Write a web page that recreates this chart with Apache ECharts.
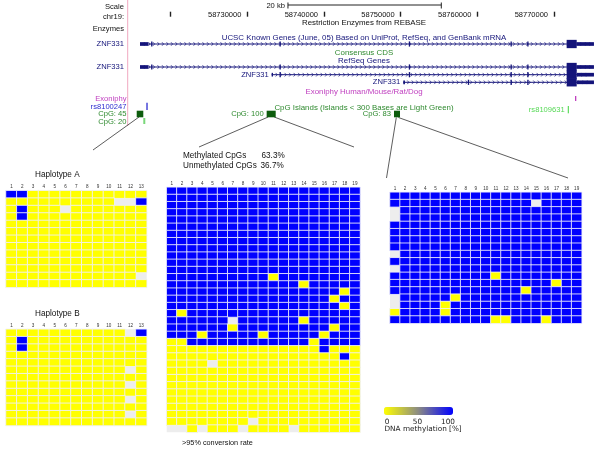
<!DOCTYPE html>
<html><head><meta charset="utf-8">
<script src="https://cdn.jsdelivr.net/npm/echarts@6/dist/echarts.min.js"></script>
<style>html,body{margin:0;padding:0;background:#fff}#c{width:600px;height:450px}</style>
</head><body><div id="c"></div>
<script>
// ================= DATA =================
// genome browser (chr19 positions)
const posTicks = [58720000, 58730000, 58740000, 58750000, 58760000, 58770000];
const posLabels = [58730000, 58740000, 58750000, 58760000, 58770000];
const scaleBarStart = 58735300;
const scaleBarLength = 20000;
const geneNames = ['', '', 'ZNF331', 'ZNF331'];
const geneStarts = [58716000, 58716000, 58733170, 58750340];
const geneEnds = [58775210, 58775210, 58775210, 58775210];
// exon: [start, end, kind] kind 1 = UTR, 2 = CDS, 3 = small exon
const geneExons = [
  [[58716000,58717080,1],[58717450,58717620,3],[58734200,58734330,3],[58751060,58751190,3],[58764330,58764460,3],[58766510,58766640,3],[58771650,58772960,2],[58772960,58775210,1]],
  [[58716000,58717080,1],[58717450,58717620,3],[58734200,58734330,3],[58751060,58751190,3],[58764330,58764460,3],[58766510,58766640,3],[58771650,58772960,2],[58772960,58775210,1]],
  [[58733170,58733350,1],[58734200,58734330,3],[58751060,58751190,3],[58764330,58764460,3],[58766510,58766640,3],[58771650,58772960,2],[58772960,58775210,1]],
  [[58750340,58750560,1],[58758760,58758890,3],[58764330,58764460,3],[58766510,58766640,3],[58771650,58772960,2],[58772960,58775210,1]]
];
const featStarts = [58715570, 58716430, 58716830, 58732520, 58749130, 58771790, 58772740];
const featEnds   = [58716430, 58716690, 58716910, 58733700, 58749910, 58771870, 58772820];
const featTracks = ['cpg', 'cpgLight', 'snpBlue', 'cpg', 'cpg', 'snpLight', 'exoniphy'];
const featLabels = ['', '', '', 'CpG: 100', 'CpG: 83', 'rs8109631', ''];

// methylation matrices: 1 = methylated (100), 0 = unmethylated (0), . = no data
const hapA = [
  '1100000000000','0000000000..1','01000.0000000','0100000000000','0000000000000',
  '0000000000000','0000000000000','0000000000000','0000000000000','0000000000000',
  '0000000000000','000000000000.','0000000000000'
];
const hapB = [
  '00000000000.1','0100000000000','0100000000000','0000000000000','0000000000000',
  '00000000000.0','0000000000000','00000000000.0','0000000000000','00000000000.0',
  '0000000000000','00000000000.0','0000000000000'
];
const cpg100 = [
  '1111111111111111111','1111111111111111111','1111111111111111111','1111111111111111111',
  '1111111111111111111','1111111111111111111','1111111111111111111','1111111111111111111',
  '1111111111111111111','1111111111111111111','1111111111111111111','1111111111111111111',
  '1111111111011111111','1111111111111011111','1111111111111111101','1111111111111111011',
  '1111111111111111101','1011111111111111111','111111.111111011111','1111110111111111011',
  '1110111110111110111','0011111111111101111','0000000000000001000','0000000000000000010',
  '0000.00000000000000','0000000000000000000','0000000000000000000','0000000000000000000',
  '0000000000000000000','0000000000000000000','0000000000000000000','0000000000000000000',
  '00000000.0000000000','..0.000.0000.000000'
];
const cpg83 = [
  '1111111111111111111','11111111111111.1111','.111111111111111111','.111111111111111111',
  '1111111111111111111','1111111111111111111','1111111111111111111','1111111111111111111',
  '.111111111111111111','1111111111111111111','.111111111111111111','1111111111011111111',
  '1111111111111111011','1111111111111011111','.111110111111111111','.111101111111111111',
  '0111101111111111111','1111111111001110111'
];
const methylatedPct = '63.3%';
const unmethylatedPct = '36.7%';
const legendTicks = [0, 50, 100];

// ================= LAYOUT / STYLE =================
const FONT = 'Liberation Sans, Arial, sans-serif';
const geneColor = '#14147a';
const geneRowY = [44, 67, 74.7, 82.3];
const trackStyle = {
  cpg: {y0: 110.7, y1: 117.3, color: '#0d5c0d'},
  cpgLight: {y0: 118, y1: 124, color: '#7ad87a'},
  snpBlue: {y0: 102.7, y1: 110, color: '#2c2cd0'},
  snpLight: {y0: 106, y1: 113.3, color: '#66dd66'},
  exoniphy: {y0: 96, y1: 101, color: '#c040c0'}
};
const exonHalf = {1: 1.85, 2: 4.15, 3: 2.6};

function toCells(rows) {
  const out = [];
  rows.forEach((r, j) => {
    for (let i = 0; i < r.length; i++) {
      const c = r[i];
      out.push([i, j, c === '1' ? 100 : (c === '0' ? 0 : '-')]);
    }
  });
  return out;
}
function colNames(n) { return Array.from({length: n}, (_, i) => String(i + 1)); }
function rowNames(n) { return Array.from({length: n}, (_, i) => 'r' + i); }

const heatGrids = [
  {left: 6, top: 190.7, width: 140.7, height: 96.6, rows: hapA},
  {left: 6, top: 329.3, width: 140.7, height: 96.2, rows: hapB},
  {left: 166.7, top: 187.3, width: 193.3, height: 245, rows: cpg100},
  {left: 390, top: 192.3, width: 191.7, height: 131, rows: cpg83}
];

const grids = [{left: 170.667, top: 0, width: 460, height: 130, show: false, outerBoundsMode: 'none', containLabel: false}];
const xAxes = [{
  gridIndex: 0, type: 'value', min: 58720000, max: 58780000, interval: 10000,
  position: 'top', offset: -16.7,
  axisLine: {show: false}, splitLine: {show: false},
  axisTick: {show: true, length: 5, lineStyle: {color: '#222', width: 1.4}},
  axisLabel: {
    show: true, margin: 1.3, fontSize: 7.5, fontFamily: FONT, color: '#111',
    align: 'right', verticalAlign: 'middle', padding: [0, 6, 0, 0],
    formatter: v => posLabels.indexOf(v) >= 0 ? String(v) : ''
  }
}];
const yAxes = [{gridIndex: 0, type: 'value', min: 0, max: 130, inverse: true, show: false}];
const series = [];

heatGrids.forEach((g, k) => {
  const gi = k + 1;
  const nCols = g.rows[0].length;
  grids.push({left: g.left, top: g.top, width: g.width, height: g.height, show: true,
    backgroundColor: '#ededed', borderWidth: 0, outerBoundsMode: 'none', containLabel: false});
  xAxes.push({gridIndex: gi, type: 'category', data: colNames(nCols), position: 'top',
    axisLine: {show: false}, axisTick: {show: false}, splitLine: {show: false},
    axisLabel: {interval: 0, fontSize: 4.6, margin: 1.2, color: '#333', fontFamily: FONT}});
  yAxes.push({gridIndex: gi, type: 'category', data: rowNames(g.rows.length), inverse: true, show: false});
  series.push({
    type: 'heatmap', xAxisIndex: gi, yAxisIndex: gi, data: toCells(g.rows),
    itemStyle: {borderColor: 'rgba(240,240,250,0.85)', borderWidth: 1},
    emphasis: {disabled: true}, silent: true
  });
});

// genes
series.push({
  type: 'custom', xAxisIndex: 0, yAxisIndex: 0, silent: true,
  data: geneStarts.map((s, i) => [s, geneEnds[i], i]),
  renderItem: function (params, api) {
    const i = api.value(2);
    const y = geneRowY[i];
    const p0 = api.coord([api.value(0), y]);
    const p1 = api.coord([api.value(1), y]);
    const ch = [];
    ch.push({type: 'line', shape: {x1: p0[0], y1: y, x2: p1[0], y2: y}, style: {stroke: geneColor, lineWidth: 1}});
    for (let x = p0[0] + 5; x < p1[0] - 3; x += 4.5) {
      ch.push({type: 'polyline', shape: {points: [[x - 1, y - 1.8], [x + 0.6, y], [x - 1, y + 1.8]]},
        style: {stroke: geneColor, lineWidth: 0.7, fill: null}});
    }
    geneExons[i].forEach(ex => {
      const a = api.coord([ex[0], y])[0], b = api.coord([ex[1], y])[0];
      const h = exonHalf[ex[2]];
      ch.push({type: 'rect', shape: {x: a, y: y - h, width: Math.max(b - a, 1.3), height: 2 * h},
        style: {fill: geneColor}});
    });
    if (geneNames[i]) {
      ch.push({type: 'text', style: {text: geneNames[i], x: p0[0] - 3, y: y, align: 'right',
        verticalAlign: 'middle', font: '7.6px ' + FONT, fill: geneColor}});
    }
    return {type: 'group', children: ch};
  }
});
// features
series.push({
  type: 'custom', xAxisIndex: 0, yAxisIndex: 0, silent: true,
  data: featStarts.map((s, i) => [s, featEnds[i], i]),
  renderItem: function (params, api) {
    const i = api.value(2);
    const t = trackStyle[featTracks[i]];
    const a = api.coord([api.value(0), t.y0]);
    const b = api.coord([api.value(1), t.y1]);
    const ch = [{type: 'rect', shape: {x: a[0], y: a[1], width: Math.max(b[0] - a[0], 1.3), height: b[1] - a[1]},
      style: {fill: t.color}}];
    if (featLabels[i]) {
      ch.push({type: 'text', style: {text: featLabels[i], x: a[0] - 3, y: (a[1] + b[1]) / 2, align: 'right',
        verticalAlign: 'middle', font: '7.6px ' + FONT, fill: featTracks[i] === 'cpg' ? '#2f8a2f' : '#55d855'}});
    }
    return {type: 'group', children: ch};
  }
});
// scale bar
series.push({
  type: 'custom', xAxisIndex: 0, yAxisIndex: 0, silent: true,
  data: [[scaleBarStart, scaleBarStart + scaleBarLength]],
  renderItem: function (params, api) {
    const a = api.coord([api.value(0), 5]);
    const b = api.coord([api.value(1), 5]);
    const st = {stroke: '#222', lineWidth: 1};
    return {type: 'group', children: [
      {type: 'line', shape: {x1: a[0], y1: 5, x2: b[0], y2: 5}, style: st},
      {type: 'line', shape: {x1: a[0], y1: 2.5, x2: a[0], y2: 8.5}, style: st},
      {type: 'line', shape: {x1: b[0], y1: 2.5, x2: b[0], y2: 8.5}, style: st},
      {type: 'text', style: {text: (scaleBarLength / 1000) + ' kb', x: a[0] - 3, y: 5.5, align: 'right',
        verticalAlign: 'middle', font: '7.6px ' + FONT, fill: '#111'}}
    ]};
  }
});

function txt(text, x, y, opt) {
  return Object.assign({type: 'text', silent: true, style: Object.assign({text: text, x: x, y: y,
    font: '7.6px ' + FONT, fill: '#111', align: 'left', verticalAlign: 'middle'}, opt || {})});
}
const trackTitleX = 364;
const TF = '7.9px ' + FONT;
const graphic = [
  {type: 'line', silent: true, shape: {x1: 127.7, y1: 0, x2: 127.7, y2: 126}, style: {stroke: '#f0a8c0', lineWidth: 1}},
  txt('Scale', 124, 7, {align: 'right'}),
  txt('chr19:', 124, 17, {align: 'right'}),
  txt('Enzymes', 124, 29, {align: 'right'}),
  txt('ZNF331', 124, 44, {align: 'right', fill: geneColor}),
  txt('ZNF331', 124, 67, {align: 'right', fill: geneColor}),
  txt('Exoniphy', 126.5, 99.3, {align: 'right', fill: '#c040c0'}),
  txt('rs8100247', 126.5, 106.7, {align: 'right', fill: '#2c2cd0'}),
  txt('CpG: 45', 126.5, 114, {align: 'right', fill: '#2f8a2f'}),
  txt('CpG: 20', 126.5, 121.7, {align: 'right', fill: '#2f8a2f'}),
  txt('Restriction Enzymes from REBASE', trackTitleX, 23.3, {align: 'center', font: TF}),
  txt('UCSC Known Genes (June, 05) Based on UniProt, RefSeq, and GenBank mRNA', trackTitleX, 38.3, {align: 'center', fill: geneColor, font: TF}),
  txt('Consensus CDS', trackTitleX, 53.3, {align: 'center', fill: '#2f8a2f', font: TF}),
  txt('RefSeq Genes', trackTitleX, 60.7, {align: 'center', fill: geneColor, font: TF}),
  txt('Exoniphy Human/Mouse/Rat/Dog', trackTitleX, 91.7, {align: 'center', fill: '#c040c0', font: TF}),
  txt('CpG Islands (Islands < 300 Bases are Light Green)', trackTitleX, 107.7, {align: 'center', fill: '#2f8a2f', font: TF}),
  txt('Haplotype A', 35, 175, {font: '8.2px ' + FONT}),
  txt('Haplotype B', 35, 313.3, {font: '8.2px ' + FONT}),
  txt('Methylated CpGs', 183, 155.7, {font: '8.2px ' + FONT}),
  txt(methylatedPct, 261.5, 155.7, {font: '8.2px ' + FONT}),
  txt('Unmethylated CpGs', 183, 166, {font: '8.2px ' + FONT}),
  txt(unmethylatedPct, 260.5, 166, {font: '8.2px ' + FONT}),
  txt('>95% conversion rate', 182, 443.3, {font: '7.3px ' + FONT}),
  txt('DNA methylation [%]', 384.5, 429.5, {font: '7.3px DejaVu Sans, sans-serif', fill: '#222'})
];
legendTicks.forEach((v) => {
  graphic.push(txt(String(v), 387 + 61 * v / 100, 422.3, {align: 'center',
    font: '7.3px DejaVu Sans, sans-serif', fill: '#222'}));
});

const chart = echarts.init(document.getElementById('c'));
chart.setOption({
  animation: false,
  backgroundColor: '#ffffff',
  grid: grids, xAxis: xAxes, yAxis: yAxes, series: series,
  visualMap: {
    type: 'continuous', min: 0, max: 100, seriesIndex: [0, 1, 2, 3], dimension: 2,
    inRange: {color: ['#ffff00', '#8a8a84', '#0000ff']},
    orient: 'horizontal', left: 384, top: 407, itemWidth: 8, itemHeight: 69,
    calculable: false, text: null, padding: 0, showLabel: false, hoverLink: false
  },
  graphic: graphic
});

// connector lines from CpG islands to the methylation tables
const c45 = chart.convertToPixel({gridIndex: 0}, [featStarts[0] + 300, 117]);
const c100a = chart.convertToPixel({gridIndex: 0}, [featStarts[3] + 200, 117]);
const c100b = chart.convertToPixel({gridIndex: 0}, [featEnds[3] - 200, 117]);
const c83a = chart.convertToPixel({gridIndex: 0}, [featStarts[4] + 300, 117.5]);
const c83b = chart.convertToPixel({gridIndex: 0}, [featEnds[4] - 200, 117.5]);
const ls = {stroke: '#333', lineWidth: 0.8};
graphic.push(
  {type: 'line', silent: true, shape: {x1: c45[0], y1: c45[1], x2: 93, y2: 150}, style: ls},
  {type: 'line', silent: true, shape: {x1: c100a[0], y1: c100a[1], x2: 199, y2: 147}, style: ls},
  {type: 'line', silent: true, shape: {x1: c100b[0], y1: c100b[1], x2: 354, y2: 147}, style: ls},
  {type: 'line', silent: true, shape: {x1: c83a[0], y1: c83a[1], x2: 386.5, y2: 178}, style: ls},
  {type: 'line', silent: true, shape: {x1: c83b[0], y1: c83b[1], x2: 568, y2: 178}, style: ls}
);
chart.setOption({graphic: graphic});
</script></body></html>
